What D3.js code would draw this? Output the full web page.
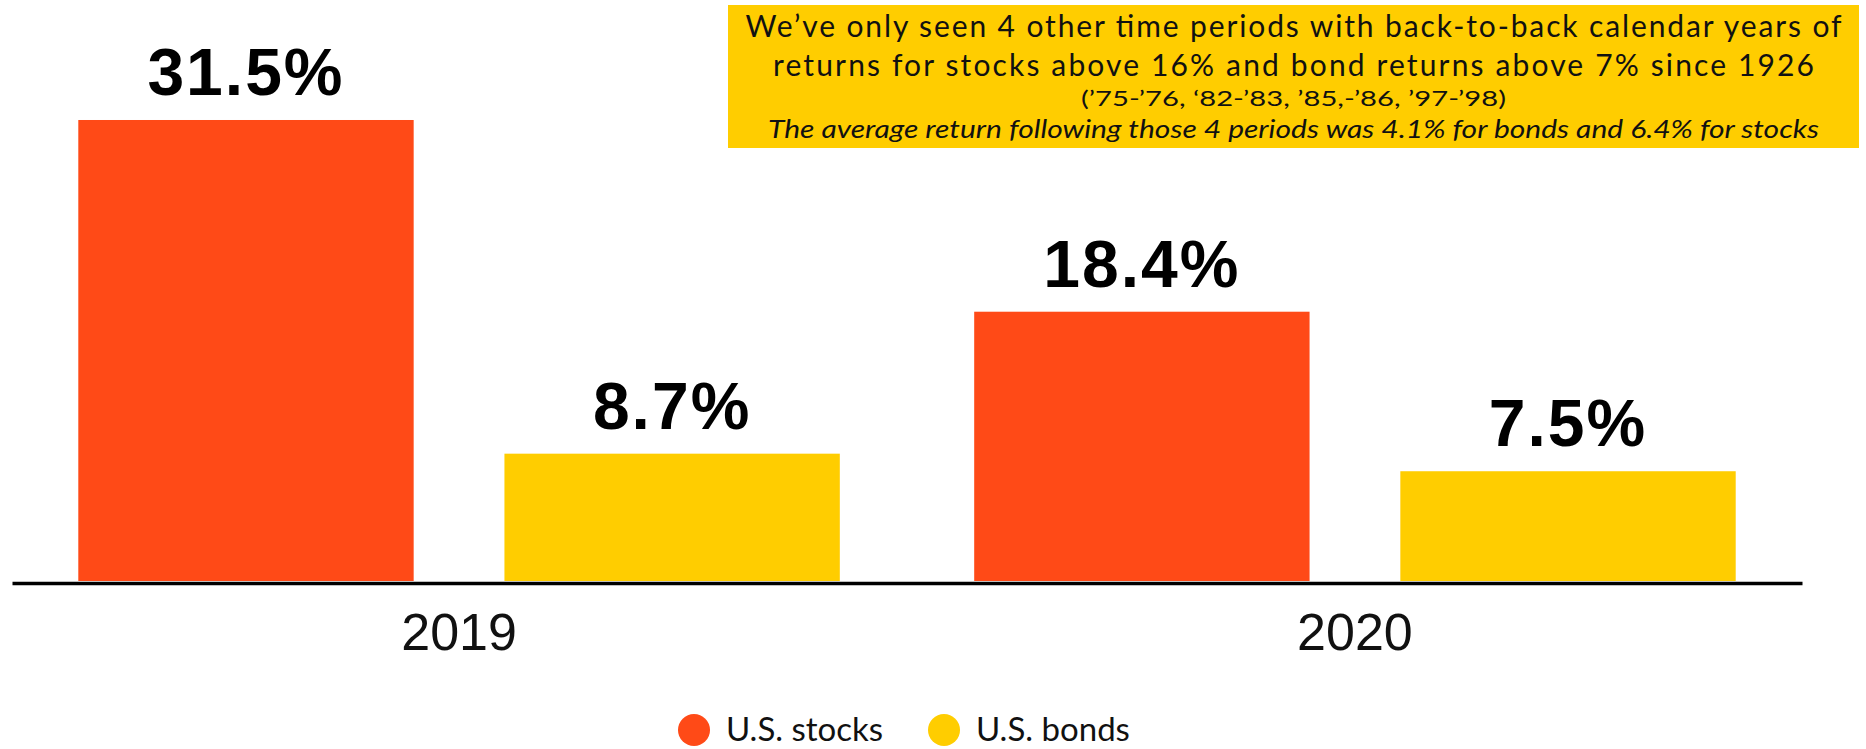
<!DOCTYPE html>
<html>
<head>
<meta charset="utf-8">
<script src="https://cdn.jsdelivr.net/npm/d3@7"></script>
<style>
  body { margin: 0; background: #fff; }
  svg { display: block; }
</style>
</head>
<body>
<div id="chart"></div>
<script>
// data
var years = ["2019", "2020"];
var series = ["U.S. stocks", "U.S. bonds"];
var stocks = [31.5, 18.4];
var bonds = [8.7, 7.5];
var colors = ["#ff4a17", "#ffcd00"];

var noteLines = [
  "We\u2019ve only seen 4 other time periods with back-to-back calendar years of",
  "returns for stocks above 16% and bond returns above 7% since 1926",
  "(\u201975-\u201976, \u201882-\u201983, \u201985,-\u201986, \u201997-\u201998)",
  "The average return following those 4 periods was 4.1% for bonds and 6.4% for stocks"
];

var width = 1866, height = 749;
var baseY = 581;

var svg = d3.select("#chart").append("svg")
    .attr("width", width)
    .attr("height", height);

// rows built from the arrays above
var rows = years.map(function(y, i) {
  return { year: y, values: [stocks[i], bonds[i]] };
});

var x0 = d3.scaleBand()
    .domain(years)
    .range([12, 1802])
    .paddingInner(0.15)
    .paddingOuter(0.074);

var x1 = d3.scaleBand()
    .domain(series)
    .range([0, x0.bandwidth()])
    .paddingInner(0.213);

var y = d3.scaleLinear()
    .domain([0, 35])
    .range([baseY, baseY - 35 * 14.635]);

var color = d3.scaleOrdinal().domain(series).range(colors);

var fmt = function(v) { return d3.format(".1f")(v) + "%"; };

// groups of bars
var group = svg.selectAll("g.year")
    .data(rows)
  .enter().append("g")
    .attr("class", "year")
    .attr("transform", function(d) { return "translate(" + x0(d.year) + ",0)"; });

var cell = group.selectAll("g.bar")
    .data(function(d) {
      return d.values.map(function(v, j) { return { key: series[j], value: v }; });
    })
  .enter().append("g")
    .attr("class", "bar");

cell.append("rect")
    .attr("x", function(d) { return x1(d.key); })
    .attr("y", function(d) { return y(d.value); })
    .attr("width", x1.bandwidth())
    .attr("height", function(d) { return baseY - y(d.value); })
    .attr("fill", function(d) { return color(d.key); });

cell.append("text")
    .attr("x", function(d) { return x1(d.key) + x1.bandwidth() / 2; })
    .attr("y", function(d) { return y(d.value) - 25; })
    .attr("text-anchor", "middle")
    .style("font-family", "'Liberation Sans', Arial, sans-serif")
    .style("font-weight", "bold")
    .style("font-size", "66px")
    .style("letter-spacing", "2px")
    .attr("fill", "#000")
    .text(function(d) { return fmt(d.value); });

// x axis
var xAxis = d3.axisBottom(x0).tickSize(0).tickPadding(30);
var ax = svg.append("g")
    .attr("transform", "translate(0," + (baseY + 2) + ")")
    .call(xAxis);
ax.select(".domain")
    .attr("stroke", "#000")
    .attr("stroke-width", 3.5);
ax.selectAll(".tick text")
    .style("font-family", "'Liberation Sans', Arial, sans-serif")
    .style("font-size", "52px")
    .attr("fill", "#111");

// annotation box
var box = { x: 728, y: 5, w: 1131, h: 143 };
var note = svg.append("g");
note.append("rect")
    .attr("x", box.x).attr("y", box.y)
    .attr("width", box.w).attr("height", box.h)
    .attr("fill", "#ffcd00");

var noteStyle = [
  { y: 37, size: 30, len: 1096, squeeze: false, italic: false },
  { y: 76, size: 30, len: 1041, squeeze: false, italic: false },
  { y: 106, size: 22, len: 425, squeeze: true, italic: false },
  { y: 138, size: 25, len: 1051, squeeze: true, italic: true }
];
note.selectAll("text")
    .data(noteLines)
  .enter().append("text")
    .attr("x", box.x + box.w / 2)
    .attr("y", function(d, i) { return noteStyle[i].y; })
    .attr("text-anchor", "middle")
    .attr("textLength", function(d, i) { return noteStyle[i].len; })
    .attr("lengthAdjust", function(d, i) { return noteStyle[i].squeeze ? "spacingAndGlyphs" : "spacing"; })
    .style("font-family", "Lato, 'Open Sans', sans-serif")
    .style("font-size", function(d, i) { return noteStyle[i].size + "px"; })
    .style("font-style", function(d, i) { return noteStyle[i].italic ? "italic" : "normal"; })
    .attr("fill", "#111")
    .text(function(d) { return d; });

// legend
var legendX = [694, 944];
var legend = svg.selectAll("g.legend")
    .data(series)
  .enter().append("g")
    .attr("class", "legend")
    .attr("transform", function(d, i) { return "translate(" + legendX[i] + ",730)"; });

legend.append("circle")
    .attr("r", 16)
    .attr("fill", function(d) { return color(d); });

legend.append("text")
    .attr("x", 32)
    .attr("y", 11)
    .style("font-family", "Lato, 'Open Sans', sans-serif")
    .style("font-size", "33px")
    .attr("fill", "#111")
    .text(function(d) { return d; });
</script>
</body>
</html>
